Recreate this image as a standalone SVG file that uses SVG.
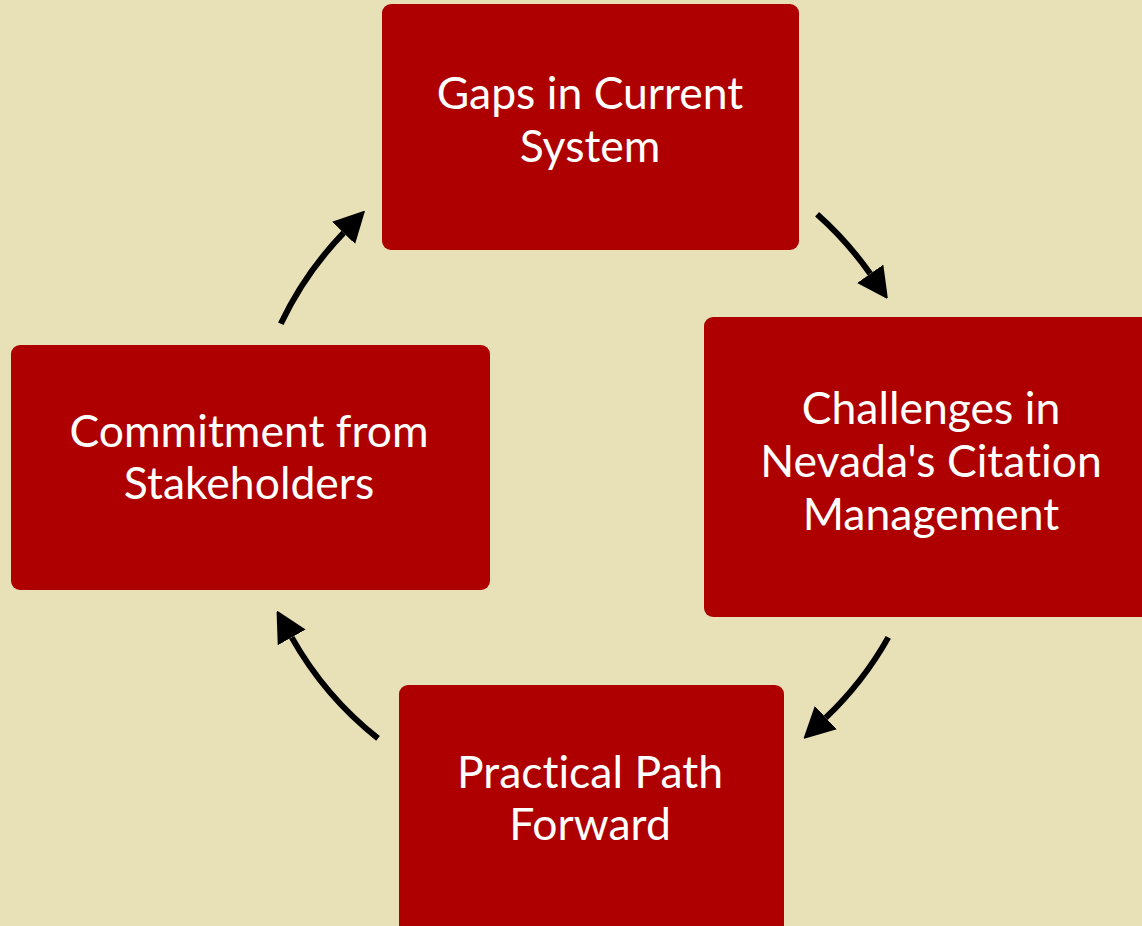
<svg xmlns="http://www.w3.org/2000/svg" width="1142" height="926" viewBox="0 0 1142 926">
<style>
.box{fill:#AE0000;}
.lbl{fill:#ffffff;font-family:Lato,"Open Sans","Liberation Sans",sans-serif;font-size:44.5px;text-anchor:middle;font-variant-ligatures:none;}
.arc{fill:none;stroke:#000;stroke-width:6;marker-end:url(#ah);}
</style>
<defs>
<marker id="ah" viewBox="0 0 30 32" refX="0" refY="16" markerWidth="30" markerHeight="32" markerUnits="userSpaceOnUse" orient="auto">
<path d="M0,0 L31,16 L0,32 z" fill="#000"/>
</marker>
</defs>
<rect width="1142" height="926" fill="#E8E1B8"/>
<g id="connectors">
<path class="arc" d="M817.1,214.2 A342,342 0 0 1 870.2,273.8"/>
<path class="arc" d="M888.3,637.4 A342,342 0 0 1 825.8,717.7"/>
<path class="arc" d="M378.0,738.4 A342,342 0 0 1 291.7,637.4"/>
<path class="arc" d="M280.8,323.8 A342,342 0 0 1 343.6,232.9"/>
</g>
<g id="node-gaps">
<rect class="box" x="382" y="4" width="417" height="246" rx="9"/>
<text class="lbl" x="590" y="109">Gaps in Current</text>
<text class="lbl" x="590" y="162">System</text>
</g>
<g id="node-challenges">
<rect class="box" x="704" y="317" width="450" height="300" rx="9"/>
<text class="lbl" x="931" y="424">Challenges in</text>
<text class="lbl" x="931" y="477">Nevada's Citation</text>
<text class="lbl" x="931" y="530">Management</text>
</g>
<g id="node-practical">
<rect class="box" x="399" y="685" width="385" height="260" rx="9"/>
<text class="lbl" x="590" y="788">Practical Path</text>
<text class="lbl" x="590" y="840">Forward</text>
</g>
<g id="node-commitment">
<rect class="box" x="11" y="345" width="479" height="245" rx="9"/>
<text class="lbl" x="249" y="447">Commitment from</text>
<text class="lbl" x="249" y="499">Stakeholders</text>
</g>
</svg>
